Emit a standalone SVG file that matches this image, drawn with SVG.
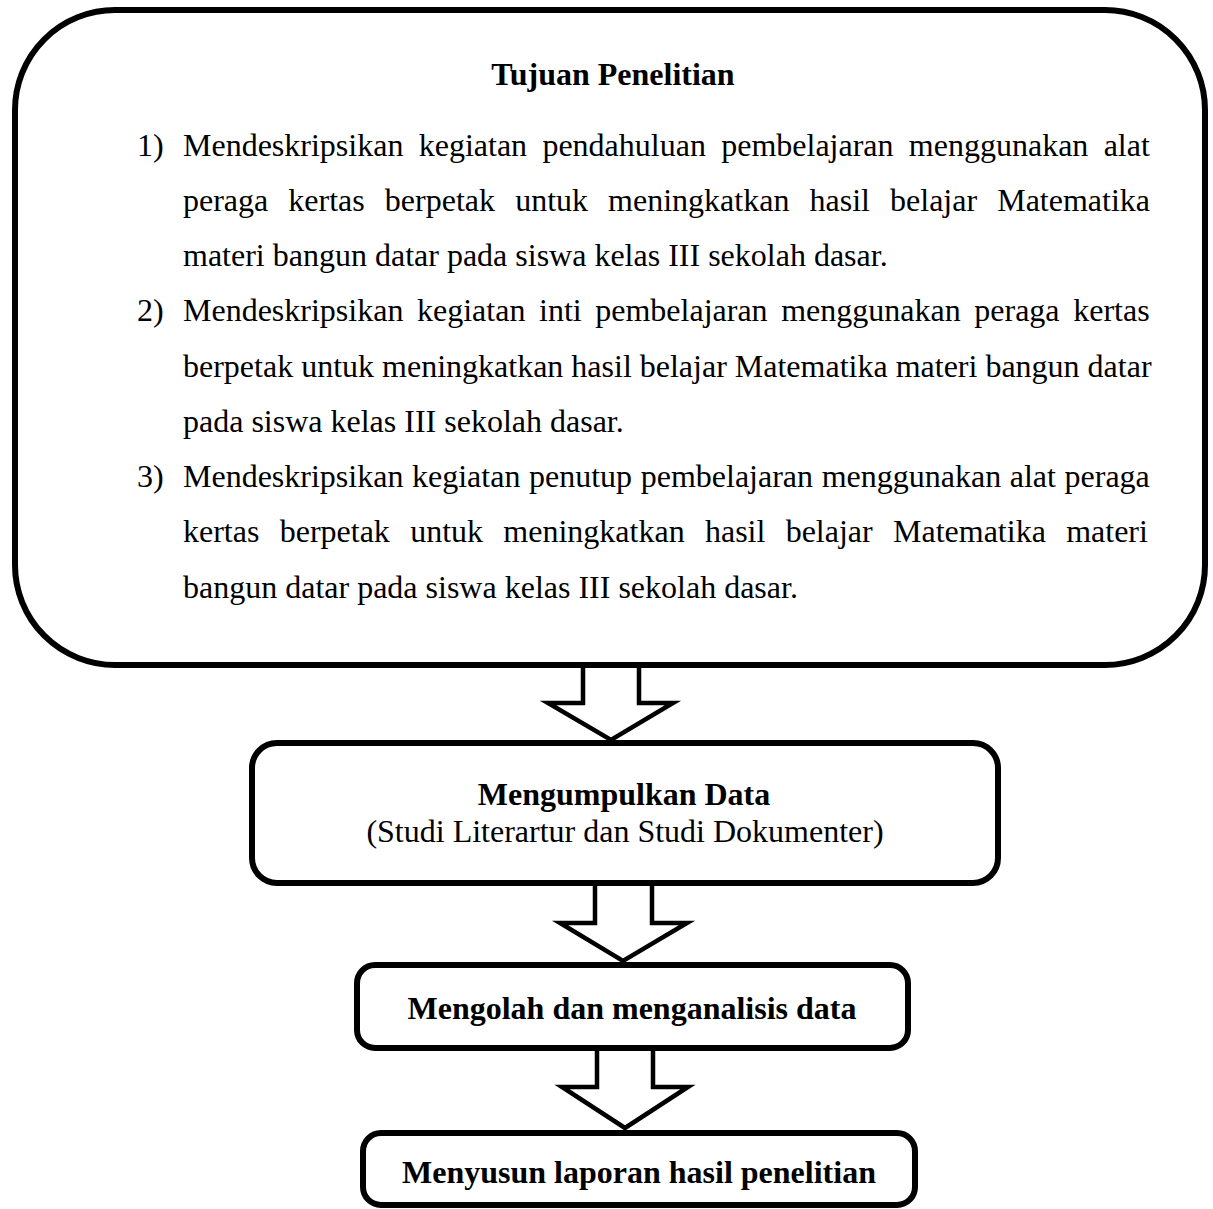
<svg xmlns="http://www.w3.org/2000/svg" width="1213" height="1209" viewBox="0 0 1213 1209">
<style>
.box{fill:#fff;stroke:#000;stroke-width:6}
.arr{fill:#fff;stroke:#000;stroke-width:4.5;stroke-linejoin:miter}
text{font-family:"Liberation Serif","Times New Roman",serif;font-size:32px;fill:#000}
.b{font-weight:bold}
.c{text-anchor:middle}
</style>
<rect width="1213" height="1209" fill="#fff"/>
<g id="connectors">
<polygon class="arr" points="583,665 639,665 639,703 673,703 611,740 548,703 583,703"/>
<polygon class="arr" points="595,883 652,883 652,923 687,923 623,961 560,923 595,923"/>
<polygon class="arr" points="597,1048 653,1048 653,1087 688,1087 625,1128 562,1087 597,1087"/>
</g>
<g id="tujuan">
<rect class="box" x="15" y="10" width="1190" height="655" rx="100" ry="100"/>
<text class="b c" x="613" y="85">Tujuan Penelitian</text>
<text x="137" y="156">1)</text>
<text x="183" y="156" word-spacing="7.3">Mendeskripsikan kegiatan pendahuluan pembelajaran menggunakan alat</text>
<text x="183" y="211" word-spacing="12.1">peraga kertas berpetak untuk meningkatkan hasil belajar Matematika</text>
<text x="183" y="266">materi bangun datar pada siswa kelas III sekolah dasar.</text>
<text x="137" y="321">2)</text>
<text x="183" y="321" word-spacing="5.6">Mendeskripsikan kegiatan inti pembelajaran menggunakan peraga kertas</text>
<text x="183" y="377">berpetak untuk meningkatkan hasil belajar Matematika materi bangun datar</text>
<text x="183" y="432">pada siswa kelas III sekolah dasar.</text>
<text x="137" y="487">3)</text>
<text x="183" y="487" word-spacing="0.6">Mendeskripsikan kegiatan penutup pembelajaran menggunakan alat peraga</text>
<text x="183" y="542" word-spacing="12.3">kertas berpetak untuk meningkatkan hasil belajar Matematika materi</text>
<text x="183" y="598">bangun datar pada siswa kelas III sekolah dasar.</text>
</g>
<g id="mengumpulkan">
<rect class="box" x="252" y="743" width="746" height="140" rx="25" ry="25"/>
<text class="b c" x="624" y="805">Mengumpulkan Data</text>
<text class="c" x="625" y="842">(Studi Literartur dan Studi Dokumenter)</text>
</g>
<g id="mengolah">
<rect class="box" x="357" y="965" width="551" height="83" rx="18" ry="18"/>
<text class="b c" x="632" y="1019">Mengolah dan menganalisis data</text>
</g>
<g id="menyusun">
<rect class="box" x="363" y="1133" width="552" height="72" rx="18" ry="18"/>
<text class="b c" x="639" y="1183">Menyusun laporan hasil penelitian</text>
</g>
</svg>
